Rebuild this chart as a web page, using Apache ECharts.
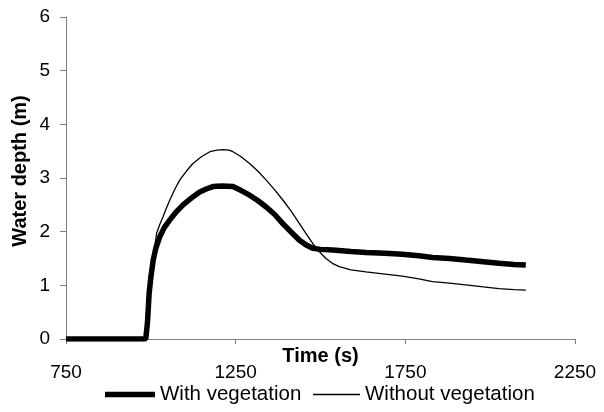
<!DOCTYPE html>
<html>
<head>
<meta charset="utf-8">
<script src="https://cdn.jsdelivr.net/npm/echarts@6/dist/echarts.min.js"></script>
<style>html,body{margin:0;padding:0;background:#fff;}#c{width:604px;height:412px;}</style>
</head>
<body>
<div id="c"></div>
<script>
var xTicks = [750, 1250, 1750, 2250];
var yTicks = [0, 1, 2, 3, 4, 5, 6];

var withT = [750, 985, 990, 995, 1000, 1007, 1015, 1026, 1040, 1056, 1075, 1095, 1120, 1144, 1165, 1183, 1210, 1242, 1265, 1291, 1315, 1340, 1365, 1389, 1414, 1438, 1458, 1477, 1500, 1536, 1590, 1634, 1690, 1741, 1790, 1830, 1880, 1928, 1980, 2026, 2070, 2105];
var withY = [0, 0, 0.3, 0.85, 1.15, 1.47, 1.7, 1.9, 2.08, 2.22, 2.37, 2.5, 2.63, 2.74, 2.8, 2.84, 2.85, 2.84, 2.77, 2.68, 2.58, 2.46, 2.32, 2.15, 1.99, 1.84, 1.75, 1.69, 1.67, 1.66, 1.63, 1.61, 1.6, 1.58, 1.55, 1.52, 1.5, 1.47, 1.44, 1.41, 1.39, 1.38];

var withoutT = [750, 985, 990, 995, 1002, 1010, 1017, 1026, 1036, 1046, 1056, 1070, 1085, 1105, 1124, 1150, 1174, 1195, 1213, 1230, 1242, 1265, 1291, 1315, 1340, 1365, 1389, 1414, 1438, 1458, 1477, 1496, 1516, 1535, 1555, 1590, 1634, 1690, 1741, 1790, 1830, 1880, 1928, 1980, 2026, 2070, 2105];
var withoutY = [0, 0, 0.3, 0.85, 1.28, 1.65, 1.97, 2.13, 2.28, 2.44, 2.59, 2.78, 2.96, 3.13, 3.27, 3.4, 3.49, 3.52, 3.53, 3.52, 3.49, 3.4, 3.27, 3.13, 2.96, 2.78, 2.59, 2.38, 2.15, 1.96, 1.78, 1.63, 1.5, 1.41, 1.35, 1.29, 1.25, 1.21, 1.17, 1.12, 1.07, 1.04, 1.01, 0.97, 0.94, 0.92, 0.91];

function pairs(t, v) { return t.map(function (x, i) { return [x, v[i]]; }); }

var font = "'Liberation Sans', Arial, sans-serif";
var chart = echarts.init(document.getElementById('c'), null, {renderer: 'canvas'});
chart.setOption({
  animation: false,
  backgroundColor: '#fff',
  textStyle: {fontFamily: font, color: '#000'},
  grid: {left: 66, right: 29, top: 17, bottom: 73, containLabel: false},
  legend: [
    {
      top: 384, left: 105, padding: 0, icon: 'rect',
      itemWidth: 50, itemHeight: 5.5,
      textStyle: {fontFamily: font, fontSize: 20.5, color: '#000'},
      data: ['With vegetation']
    },
    {
      top: 384, left: 313, padding: 0, icon: 'rect',
      itemWidth: 47, itemHeight: 1.3,
      textStyle: {fontFamily: font, fontSize: 20.5, color: '#000'},
      data: ['Without vegetation']
    }
  ],
  xAxis: {
    type: 'value', min: xTicks[0], max: xTicks[xTicks.length - 1], interval: 500,
    name: 'Time (s)', nameLocation: 'middle', nameGap: 7, nameMoveOverlap: false,
    nameTextStyle: {fontFamily: font, fontSize: 20, fontWeight: 'bold', color: '#000'},
    axisLine: {show: true, onZero: false, lineStyle: {color: '#808080', width: 1}},
    axisTick: {show: true, inside: false, length: 5, lineStyle: {color: '#808080'}},
    splitLine: {show: false},
    axisLabel: {fontFamily: font, fontSize: 19, color: '#000', margin: 24,
      formatter: function (v) { return String(v); }}
  },
  yAxis: {
    type: 'value', min: yTicks[0], max: yTicks[yTicks.length - 1], interval: 1,
    name: 'Water depth (m)', nameLocation: 'middle', nameGap: 36, nameMoveOverlap: false,
    nameTextStyle: {fontFamily: font, fontSize: 20, fontWeight: 'bold', color: '#000', padding: [0, 0, 0, 14]},
    axisLine: {show: true, lineStyle: {color: '#808080', width: 1}},
    axisTick: {show: true, inside: false, length: 6, lineStyle: {color: '#808080'}},
    splitLine: {show: false},
    axisLabel: {fontFamily: font, fontSize: 19, color: '#000', margin: 16,
      formatter: function (v) { return String(v); }}
  },
  series: [
    {
      name: 'With vegetation', type: 'line', data: pairs(withT, withY),
      symbol: 'none', smooth: false,
      lineStyle: {color: '#000', width: 5.5},
      itemStyle: {color: '#000'}
    },
    {
      name: 'Without vegetation', type: 'line', data: pairs(withoutT, withoutY),
      symbol: 'none', smooth: false,
      lineStyle: {color: '#000', width: 1.3},
      itemStyle: {color: '#000'}
    }
  ]
});
</script>
</body>
</html>
